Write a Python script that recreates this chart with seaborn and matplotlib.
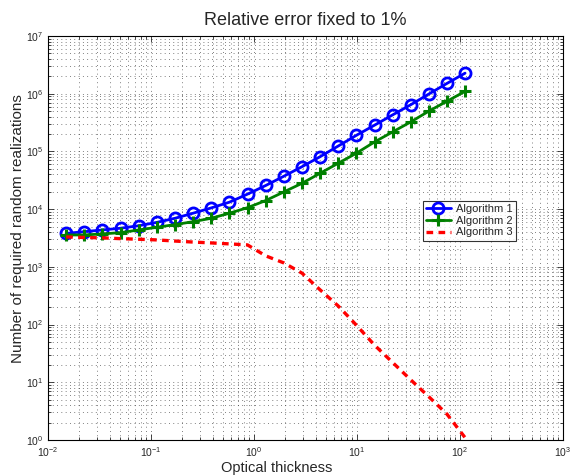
import numpy as np
import pandas as pd
import matplotlib
matplotlib.use('Agg')
import matplotlib.pyplot as plt
import seaborn as sns

# Values
optical_thickness = [0.015, 0.0225, 0.0338, 0.0506, 0.0759, 0.114, 0.171, 0.256,
                     0.384, 0.577, 0.865, 1.30, 1.95, 2.92, 4.38, 6.57, 9.85,
                     14.8, 22.2, 33.3, 49.9, 74.8, 112.0]
algo1 = [3800, 4070, 4360, 4670, 5160, 5900, 6950, 8500, 10500, 13200, 18200,
         25700, 37200, 54300, 81000, 124000, 190000, 285000, 430000, 645000,
         990000, 1510000, 2270000]
algo2 = [3570, 3570, 3720, 3920, 4360, 4850, 5400, 6060, 6950, 8500, 10600,
         14100, 19900, 28000, 41800, 62400, 93000, 146000, 218000, 325000,
         500000, 740000, 1100000]
algo3 = [3300, 3230, 3180, 3080, 3010, 2930, 2800, 2690, 2600, 2500, 2400,
         1550, 1170, 780, 400, 210, 98, 44, 22, 11, 5.6, 2.8, 1.1]

sns.set_style('ticks')
plt.rcParams['font.family'] = ['Liberation Sans', 'DejaVu Sans']
plt.rcParams['mathtext.fontset'] = 'custom'
plt.rcParams['mathtext.rm'] = 'Liberation Sans'

fig = plt.figure(figsize=(5.76, 4.75), dpi=100)
ax = fig.add_axes([48 / 576, 1 - 440 / 475, 515 / 576, 404 / 475])

sns.lineplot(x=optical_thickness, y=algo1, ax=ax, color='#0000ff', lw=2.0,
             marker='o', markersize=8, markerfacecolor='none',
             markeredgecolor='#0000ff', markeredgewidth=2.0, label='Algorithm 1')
sns.lineplot(x=optical_thickness, y=algo2, ax=ax, color='#008000', lw=2.0,
             marker='+', markersize=8, markeredgewidth=2.2,
             markeredgecolor='#008000', label='Algorithm 2')
sns.lineplot(x=optical_thickness, y=algo3, ax=ax, color='#ff0000', lw=2.4,
             linestyle=(0, (2, 1.6)), label='Algorithm 3')

ax.set_xscale('log')
ax.set_yscale('log')
ax.set_xlim(1e-2, 1e3)
ax.set_ylim(1e0, 1e7)

ax.grid(True, which='both', linestyle=(0, (1.2, 5)), color='#333333', linewidth=0.5)
ax.tick_params(which='both', direction='in', top=True, right=True,
               labelsize=7.5, width=0.6)
ax.tick_params(which='major', length=4)
ax.tick_params(which='minor', length=2)
for sp in ax.spines.values():
    sp.set_linewidth(0.8)
    sp.set_color('black')

ax.set_title('Relative error fixed to 1%', fontsize=13, pad=8)
ax.set_xlabel('Optical thickness', fontsize=10.5)
ax.set_ylabel('Number of required random realizations', fontsize=11)
ax.xaxis.set_label_coords(0.445, -0.052)
ax.yaxis.set_label_coords(-0.045, 0.523)

leg = ax.legend(loc='upper left', bbox_to_anchor=(0.728, 0.592),
                borderaxespad=0, fontsize=8, frameon=True, fancybox=False,
                handlelength=2.2, handletextpad=0.5, borderpad=0.3,
                labelspacing=0.15, edgecolor='black')
leg.get_frame().set_linewidth(0.8)

fig.savefig('out.png', dpi=100)
